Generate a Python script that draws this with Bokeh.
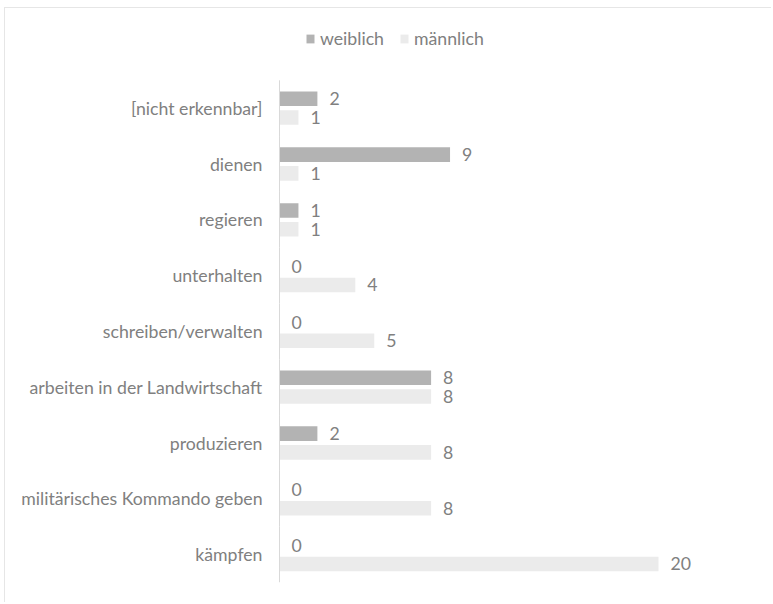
from bokeh.plotting import figure
from bokeh.models import (Range1d, ColumnDataSource, Legend, LegendItem,
                          FixedTicker)
from bokeh.transform import dodge
from bokeh.core.properties import value
from bokeh.embed import file_html
from bokeh.resources import INLINE

categories = ["[nicht erkennbar]", "dienen", "regieren", "unterhalten",
              "schreiben/verwalten", "arbeiten in der Landwirtschaft",
              "produzieren", "militärisches Kommando geben", "kämpfen"]
weiblich = [2, 9, 1, 0, 0, 8, 2, 0, 0]
maennlich = [1, 1, 1, 4, 5, 8, 8, 8, 20]
series_names = ["weiblich", "männlich"]

FONT = "Lato"
FS = "17.7px"
TEXT = "#808080"
C_W = "#b3b3b3"
C_M = "#ebebeb"
AXIS = "#d9d9d9"

n = len(categories)
pos = list(range(n))[::-1]          # first category at the top

src = ColumnDataSource(dict(
    cat=categories, pos=pos, w=weiblich, m=maennlich,
    wl=[str(v) for v in weiblich], ml=[str(v) for v in maennlich]))

PX_X = 18.95    # pixels per value unit
PX_Y = 55.8     # pixels per category
FRAME_W = 767 - 273 - 37
FRAME_H = 595 - 10 - 21

p = figure(width=767, height=595,
           min_border_left=273, min_border_right=37,
           min_border_top=10, min_border_bottom=21,
           x_range=Range1d(-1 / PX_X, (FRAME_W - 1) / PX_X),
           y_range=Range1d(-0.5, -0.5 + FRAME_H / PX_Y),
           title=None, output_backend="svg", toolbar_location=None)

off = 0.168
yw = dodge("pos", off)
ym = dodge("pos", -off)

rw = p.hbar(y=yw, left=0, right="w", height=0.26, fill_color=C_W,
            line_color=None, source=src)
rm = p.hbar(y=ym, left=0, right="m", height=0.26, fill_color=C_M,
            line_color=None, source=src)

# category axis line, one segment per category band
p.segment(x0=0, x1=0, y0=dodge("pos", -0.5), y1=dodge("pos", 0.5),
          line_color=AXIS, line_width=1, source=src)

for yy, col, xcol in ((yw, "wl", "w"), (ym, "ml", "m")):
    p.text(x=xcol, y=yy, text=col, x_offset=12, text_baseline="middle",
           text_align="left", text_font=value(FONT), text_font_size=FS,
           text_color=TEXT, source=src)

legend = Legend(items=[LegendItem(label=series_names[0], renderers=[rw]),
                       LegendItem(label=series_names[1], renderers=[rm])],
                orientation="horizontal", location=(27, 533),
                padding=0, margin=0, spacing=15, label_standoff=5,
                glyph_width=10, glyph_height=11,
                border_line_color=None, background_fill_alpha=0,
                label_text_font=FONT, label_text_font_size=FS,
                label_text_color=TEXT)
p.add_layout(legend, "center")

p.xaxis[0].visible = False
p.xgrid.visible = False
p.ygrid.visible = False
p.outline_line_color = None

ax = p.yaxis[0]
ax.ticker = FixedTicker(ticks=pos)
ax.major_label_overrides = {pp: c for pp, c in zip(pos, categories)}
ax.axis_line_color = None
ax.major_tick_line_color = None
ax.minor_tick_line_color = None
ax.major_tick_out = 0
ax.major_tick_in = 0
ax.minor_tick_out = 0
ax.major_label_standoff = 16
ax.major_label_text_font = FONT
ax.major_label_text_font_size = FS
ax.major_label_text_color = TEXT

p.margin = (7, 0, 0, 4)
p.styles = {"border-left": "1px solid #e6e6e6", "border-top": "1px solid #e6e6e6"}

open("out.html", "w").write(file_html(p, INLINE))
